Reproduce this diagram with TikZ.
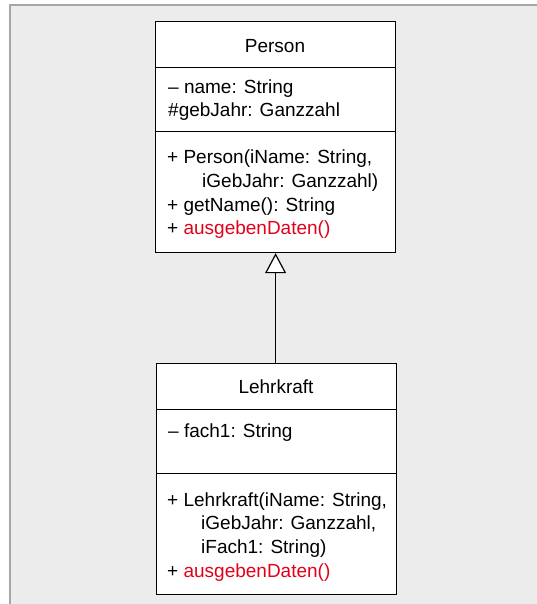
\documentclass[tikz,border=0pt]{standalone}
\usepackage{fontspec}
\setmainfont{Liberation Sans}
\usetikzlibrary{arrows.meta}
\definecolor{panelgray}{HTML}{ECECEC}
\definecolor{paneledge}{HTML}{A6A6A6}
\definecolor{umlred}{HTML}{E3001B}
\tikzset{
  compart/.style={draw=black, line width=1.2pt, fill=white, rectangle,
    inner sep=0pt, anchor=north west, minimum width=240pt},
  umltext/.style={inner sep=0pt, anchor=base west, font=\fontsize{19}{23}\selectfont},
  umltitle/.style={inner sep=0pt, anchor=base, font=\fontsize{19}{23}\selectfont},
  redop/.style={text=umlred},
  inherit/.style={line width=1.2pt, -{Triangle[length=20pt,width=21pt,fill=white]}}
}
\begin{document}
\begin{tikzpicture}[x=1pt,y=-1pt]
  \useasboundingbox (0,0) rectangle (537,604);
  % panel background with its left and top edge
  \fill[panelgray] (10,5) rectangle (537,604);
  \draw[paneledge, line width=1.5pt] (10,604) -- (10,5) -- (537,5);

  % class Person
  \node[compart, minimum height=46pt] (pName) at (155,21) {};
  \node[compart, minimum height=64pt] (pAttr) at (155,67) {};
  \node[compart, minimum height=121pt] (pMeth) at (155,131) {};
  \node[umltitle] (pTitle) at (275,52.5) {Person};
  \node[umltext] (pA1) at (168,94) {– name: String};
  \node[umltext] (pA2) at (168,117) {\#gebJahr: Ganzzahl};
  \node[umltext] (pM1) at (167,164) {+ Person(iName: String,};
  \node[umltext] (pM2) at (202,187) {iGebJahr: Ganzzahl)};
  \node[umltext] (pM3) at (167,211) {+ getName(): String};
  \node[umltext] (pM4) at (167,234) {+ \textcolor{umlred}{ausgebenDaten()}};

  % class Lehrkraft
  \node[compart, minimum height=46pt] (lName) at (156,363) {};
  \node[compart, minimum height=64pt] (lAttr) at (156,409) {};
  \node[compart, minimum height=121pt] (lMeth) at (156,473) {};
  \node[umltitle] (lTitle) at (276,393.5) {Lehrkraft};
  \node[umltext] (lA1) at (168,437) {– fach1: String};
  \node[umltext] (lM1) at (167,506) {+ Lehrkraft(iName: String,};
  \node[umltext] (lM2) at (201,529.5) {iGebJahr: Ganzzahl,};
  \node[umltext] (lM3) at (201,553) {iFach1: String)};
  \node[umltext] (lM4) at (167,577) {+ \textcolor{umlred}{ausgebenDaten()}};

  % generalisation
  \draw[inherit] (lName.north -| pMeth.south) -- (pMeth.south);
\end{tikzpicture}
\end{document}
